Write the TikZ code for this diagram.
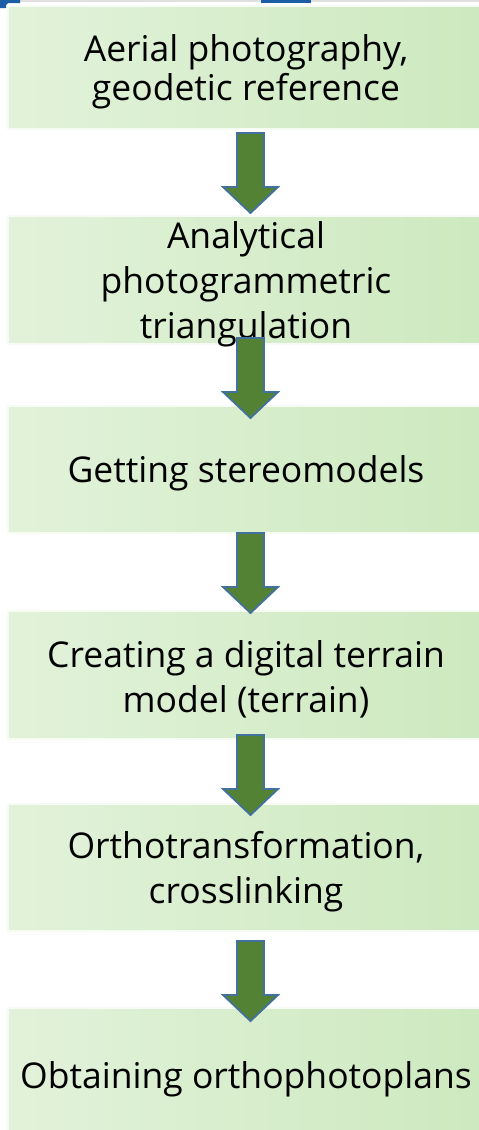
\documentclass[tikz,border=0pt]{standalone}
\usepackage{fontspec}
\setmainfont{Open Sans}
\usetikzlibrary{calc}
\definecolor{arrowfill}{HTML}{548235}
\definecolor{arrowline}{HTML}{41719C}
\definecolor{boxL}{HTML}{E2F2DA}
\definecolor{boxR}{HTML}{CDE9BF}
\definecolor{cornerblue}{HTML}{1A5EA6}
\tikzset{
  stepbox/.style={rectangle, draw=white!70!boxL, line width=2pt, minimum width=476pt, minimum height=#1, inner sep=0pt,
    left color=boxL, right color=boxR, anchor=north west},
  steptext/.style={font=\fontsize{35.5}{45}\selectfont, align=center, text=black, inner sep=0pt, yshift=-4pt},
  blockarrow/.style={fill=arrowfill, draw=arrowline, line width=1.8pt, line join=miter}
}
\newcommand\flowarrow[2]{% #1 start coordinate name (top centre), #2 end coordinate name (tip)
  \draw[blockarrow] ($(#1)+(-13.5,0)$) -- ($(#1)+(13.5,0)$) -- ($(#2)+(13.5,-26)$)
    -- ($(#2)+(27.5,-26)$) -- (#2) -- ($(#2)+(-27.5,-26)$) -- ($(#2)+(-13.5,-26)$) -- cycle;}
\begin{document}
\begin{tikzpicture}[x=1pt,y=-1pt]
\useasboundingbox (0,0) rectangle (479,1130);
\clip (0,0) rectangle (479,1130);
\fill[white] (0,0) rectangle (479,1130);
% screen artefacts at the top edge
\fill[black!12] (20,0) rectangle (479,1.5);
\fill[cornerblue] (0,0) -- (20,0) -- (20,3) -- (8,3) -- (6,5) -- (6,8) -- (0,8) -- cycle;
\fill[cornerblue] (261,0) rectangle (311,3);
% boxes
\node[stepbox=123pt] (b1) at (7,5) {};
\node[stepbox=128pt] (b2) at (7,215) {};
\node[stepbox=127pt] (b3) at (7,405) {};
\node[stepbox=128pt] (b4) at (7,610) {};
\node[stepbox=127pt] (b5) at (7,803) {};
\node[stepbox=135pt] (b6) at (7,1007) {};
% texts
\node[steptext, font=\fontsize{35.5}{39}\selectfont] (t1) at (b1.center) {Aerial photography,\\geodetic reference};
\node[steptext] (t2) at (b2.center) {Analytical\\photogrammetric\\triangulation};
\node[steptext] (t3) at (b3.center) {Getting stereomodels};
\node[steptext] (t4) at (b4.center) {Creating a digital terrain\\model (terrain)};
\node[steptext] (t5) at (b5.center) {Orthotransformation,\\crosslinking};
\node[steptext] (t6) at (b6.center) {Obtaining orthophotoplans};
% arrows
\coordinate (s1) at (250.5,133); \coordinate (e1) at (250.5,213);
\coordinate (s2) at (250.5,338); \coordinate (e2) at (250.5,418);
\coordinate (s3) at (250.5,533); \coordinate (e3) at (250.5,613);
\coordinate (s4) at (250.5,735); \coordinate (e4) at (250.5,815);
\coordinate (s5) at (250.5,941); \coordinate (e5) at (250.5,1021);
\flowarrow{s1}{e1}
\flowarrow{s2}{e2}
\flowarrow{s3}{e3}
\flowarrow{s4}{e4}
\flowarrow{s5}{e5}
\end{tikzpicture}
\end{document}
